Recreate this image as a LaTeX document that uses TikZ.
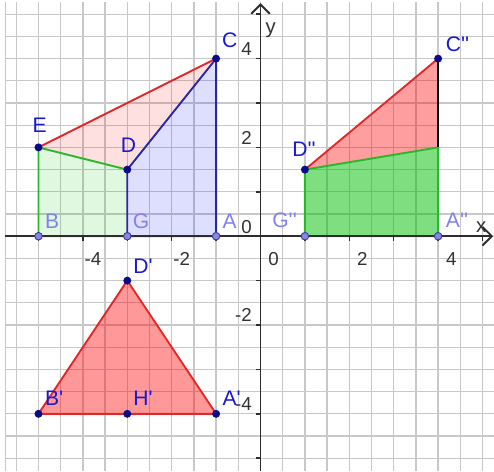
\documentclass[tikz,border=0pt]{standalone}
\usepackage{fontspec}
\newfontfamily\geofont{Liberation Sans}
\usetikzlibrary{arrows.meta}
\definecolor{gridgray}{RGB}{200,200,200}
\definecolor{axisgray}{RGB}{45,45,45}
\definecolor{numgray}{RGB}{50,50,50}
\definecolor{ptblue}{RGB}{10,10,140}
\definecolor{lblblue}{RGB}{25,25,210}
\definecolor{ptlight}{RGB}{135,135,225}
\definecolor{lbllight}{RGB}{130,130,235}
\definecolor{edgered}{RGB}{225,40,40}
\definecolor{edgegreen}{RGB}{40,185,40}
\definecolor{edgeblue}{RGB}{40,40,165}
\definecolor{fillgreen}{RGB}{0,190,0}
\tikzset{
  gridline/.style={gridgray,line width=0.8pt},
  axisline/.style={axisgray,line width=1.2pt},
  edgeline/.style={line width=1.2pt,line join=round},
  ptlbl/.style={font=\geofont\fontsize{13.5}{15}\selectfont,inner sep=0pt,anchor=base west},
  numlbl/.style={font=\geofont\fontsize{12}{14}\selectfont,inner sep=0pt,text=numgray}
}
\newcommand{\ptdark}[1]{\fill[ptblue] (#1) circle (0.09);}
\newcommand{\ptlite}[1]{\filldraw[fill=ptlight,draw=ptblue!80,line width=0.6pt] (#1) circle (0.085);}
\newcommand{\ptlabel}[5]{\node[ptlbl,text=#5] (#1) at (#2,#3) {#4};}

\begin{document}
\begin{tikzpicture}[x=1cm,y=1cm]
  \useasboundingbox (-5.867,-5.288) rectangle (5.259,5.320);
  \fill[white] (-5.867,-5.288) rectangle (5.259,5.320);
  \draw[gridline,step=0.5] (-5.75,-5.29) grid (5.26,5.27);
  \draw[gridline] (-5.75,-5.29) -- (-5.75,5.27);

  \coordinate (A) at (-1,0);
  \coordinate (B) at (-5,0);
  \coordinate (C) at (-1,4);
  \coordinate (D) at (-3,1.5);
  \coordinate (E) at (-5,2);
  \coordinate (G) at (-3,0);
  \coordinate (A2) at (4,0);
  \coordinate (C2) at (4,4);
  \coordinate (D2) at (1,1.5);
  \coordinate (G2) at (1,0);
  \coordinate (K2) at (4,2);
  \coordinate (A1) at (-1,-4);
  \coordinate (B1) at (-5,-4);
  \coordinate (D1) at (-3,-1);
  \coordinate (H1) at (-3,-4);

  \fill[fillgreen,fill opacity=0.12] (B) -- (G) -- (D) -- (E) -- cycle;
  \fill[blue,fill opacity=0.13] (G) -- (A) -- (C) -- (D) -- cycle;
  \fill[red,fill opacity=0.12] (E) -- (D) -- (C) -- cycle;
  \fill[fillgreen,fill opacity=0.5] (G2) -- (A2) -- (K2) -- (D2) -- cycle;
  \fill[red,fill opacity=0.38] (D2) -- (C2) -- (K2) -- cycle;
  \fill[red,fill opacity=0.4] (B1) -- (A1) -- (D1) -- cycle;

  \draw[edgeline,edgegreen] (D) -- (E) -- (B) -- (G);
  \draw[edgeline,edgeblue] (D) -- (G) -- (A) -- (C) -- (D);
  \draw[edgeline,edgered] (E) -- (C);
  \draw[edgeline,edgegreen] (D2) -- (G2) -- (A2) -- (K2) -- (D2);
  \draw[edgeline,edgered] (D2) -- (C2);
  \draw[edgeline,black] (K2) -- (C2);
  \draw[edgeline,edgered] (B1) -- (A1) -- (D1) -- cycle;

  \coordinate (xl) at (-5.75,0);
  \coordinate (xr) at (5.24,0);
  \coordinate (yb) at (0,-5.29);
  \coordinate (yt) at (0,5.25);
  \draw[axisline,-{Straight Barb[length=6pt,width=12pt]}] (xl) -- (xr);
  \draw[axisline,-{Straight Barb[length=6pt,width=12pt]}] (yb) -- (yt);
  \foreach \t in {-5,...,-1,1,2,...,5} {
    \draw[axisline,line width=1pt] (\t,0) -- (\t,-0.1);
    \draw[axisline,line width=1pt] (0,\t) -- (-0.1,\t);
  }
  \foreach \t in {-4,-2,0,2,4} {
    \node[numlbl,anchor=base east] (nx\t) at (\t+0.42,-0.655) {\t};
    \node[numlbl,anchor=base east] (ny\t) at (-0.19,\t+0.07) {\t};
  }
  \node[ptlbl,text=numgray,font=\geofont\fontsize{13}{15}\selectfont] (xname) at (4.85,0.09) {x};
  \node[ptlbl,text=numgray,font=\geofont\fontsize{13}{15}\selectfont] (yname) at (0.11,4.56) {y};

  \ptlite{B} \ptlite{G} \ptlite{A} \ptlite{G2} \ptlite{A2}
  \ptdark{C} \ptdark{D} \ptdark{E} \ptdark{C2} \ptdark{D2}
  \ptdark{A1} \ptdark{B1} \ptdark{D1} \ptdark{H1}

  \ptlabel{lC}{-0.87}{4.24}{C}{lblblue}
  \ptlabel{lE}{-5.14}{2.33}{E}{lblblue}
  \ptlabel{lD}{-3.15}{1.88}{D}{lblblue}
  \ptlabel{lB}{-4.86}{0.18}{B}{lbllight}
  \ptlabel{lG}{-2.88}{0.18}{G}{lbllight}
  \ptlabel{lA}{-0.86}{0.18}{A}{lbllight}
  \ptlabel{lC2}{4.17}{4.16}{C''}{lblblue}
  \ptlabel{lD2}{0.71}{1.79}{D''}{lblblue}
  \ptlabel{lG2}{0.26}{0.20}{G''}{lbllight}
  \ptlabel{lA2}{4.17}{0.20}{A''}{lbllight}
  \ptlabel{lD1}{-2.87}{-0.84}{D'}{lblblue}
  \ptlabel{lB1}{-4.86}{-3.82}{B'}{lblblue}
  \ptlabel{lH1}{-2.87}{-3.82}{H'}{lblblue}
  \ptlabel{lA1}{-0.86}{-3.82}{A'}{lblblue}
\end{tikzpicture}
\end{document}
